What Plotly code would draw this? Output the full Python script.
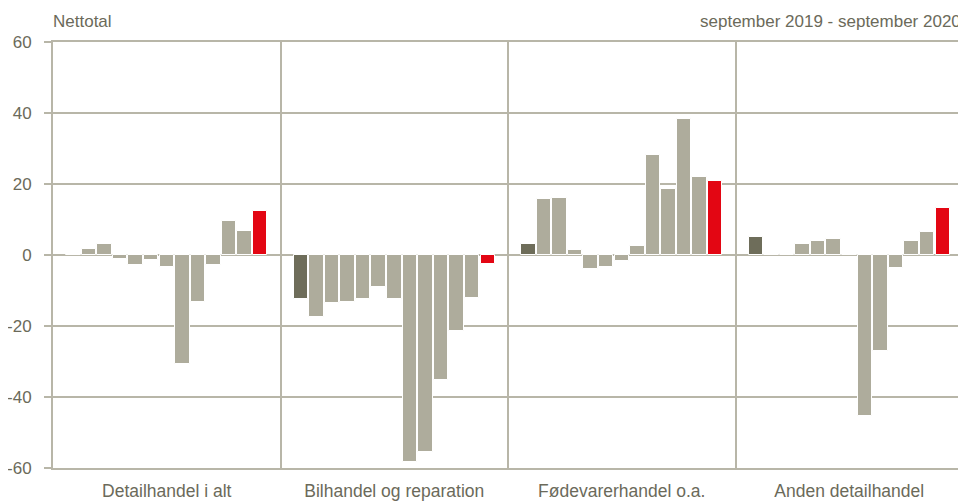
import plotly.graph_objects as go

groups = ["Detailhandel i alt", "Bilhandel og reparation", "Fødevarerhandel o.a.", "Anden detailhandel"]
months = ["sep 19", "okt 19", "nov 19", "dec 19", "jan 20", "feb 20", "mar 20",
          "apr 20", "maj 20", "jun 20", "jul 20", "aug 20", "sep 20"]

detailhandel = [0.0, 1.7, 3.0, -1.0, -2.7, -1.5, -3.4, -30.7, -13.1, -2.7, 9.7, 6.8, 12.3]
bilhandel = [-12.4, -17.4, -13.4, -13.1, -12.4, -9.1, -12.4, -58.4, -55.4, -35.1, -21.3, -12.1, -2.6]
foedevarer = [3.0, 15.7, 16.0, 1.3, -4.0, -3.4, -1.7, 2.6, 28.3, 18.7, 38.4, 22.1, 20.9]
anden = [5.1, 0.0, 0.2, 3.0, 4.0, 4.4, 0.0, -45.4, -27.1, -3.7, 4.0, 6.4, 13.2]

series = [detailhandel, bilhandel, foedevarer, anden]
y_ticks = [-60, -40, -20, 0, 20, 40, 60]
y_tick_labels = ["-60", "-40", "-20", "0", "20", "40", "60"]

GROUP_W = 14.6
PAD = (GROUP_W - (len(months) - 1)) / 2

DARK = "#6e6d5a"
LIGHT = "#aeac9c"
RED = "#e30613"
GRID = "#b8b6a8"
TEXT = "#6b6a5a"

xs, ys, cols, hov = [], [], [], []
for g, vals in enumerate(series):
    for i, v in enumerate(vals):
        xs.append(g * GROUP_W + PAD + i)
        ys.append(v)
        if i == 0:
            cols.append(DARK)
        elif i == len(vals) - 1:
            cols.append(RED)
        else:
            cols.append(LIGHT)
        hov.append(f"{groups[g]}<br>{months[i]}: {v}")

fig = go.Figure(go.Bar(
    x=xs, y=ys, width=0.93,
    marker=dict(color=cols, line=dict(color="white", width=1)),
    hovertext=hov, hoverinfo="text",
))

font = dict(family="Liberation Sans, Arial, sans-serif", size=17, color=TEXT)

# page body has an 8px default margin; figure is sized to fit the window
fig.update_layout(
    width=958, height=495,
    margin=dict(l=45, r=3, t=34, b=35),
    paper_bgcolor="white", plot_bgcolor="white",
    showlegend=False,
    font=font,
    bargap=0,
    xaxis=dict(
        range=[0, GROUP_W * len(groups)],
        automargin=False,
        tickmode="array",
        tickvals=[g * GROUP_W + GROUP_W / 2 for g in range(len(groups))],
        ticktext=groups,
        ticks="", showgrid=False, zeroline=False,
        showline=True, linecolor=GRID, linewidth=2, mirror=True,
        ticklabelstandoff=6,
        tickfont=dict(family=font["family"], size=17.5, color=TEXT),
        minor=dict(tickmode="array",
                   tickvals=[g * GROUP_W for g in range(1, len(groups))],
                   showgrid=True, gridcolor=GRID, gridwidth=2, ticks=""),
    ),
    yaxis=dict(
        range=[-60, 60],
        automargin=False,
        tickmode="array", tickvals=y_ticks, ticktext=y_tick_labels,
        ticks="outside", ticklen=7, tickcolor=GRID, tickwidth=2,
        showgrid=True, gridcolor=GRID, gridwidth=2,
        zeroline=False,
        showline=True, linecolor=GRID, linewidth=2, mirror=True,
        ticklabelstandoff=9,
        tickfont=font,
    ),
    annotations=[
        dict(text="Nettotal", xref="paper", yref="paper", x=-0.002, y=1.048,
             xanchor="left", yanchor="middle", showarrow=False, font=font),
        dict(text="september 2019 - september 2020", xref="paper", yref="paper",
             x=1.0, y=1.048, xanchor="right", yanchor="middle", showarrow=False, font=font),
    ],
)

fig.write_html("out.html")
